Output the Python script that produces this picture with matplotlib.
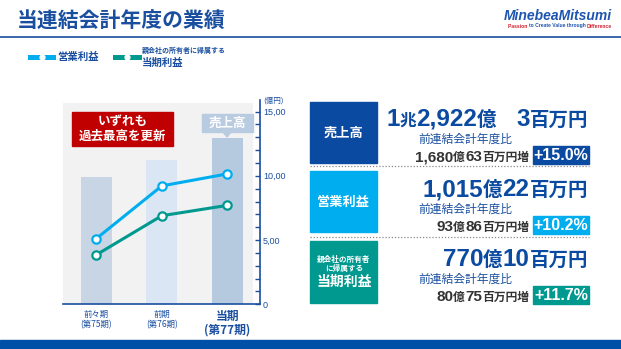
import matplotlib
matplotlib.use("Agg")
import matplotlib.pyplot as plt
from matplotlib.patches import Rectangle, Polygon
from matplotlib.lines import Line2D

plt.rcParams['font.family'] = ['Noto Sans CJK JP', 'DejaVu Sans']

# 億円
periods = ['前々期\n(第75期)', '前期\n(第76期)', '当期\n(第77期)']
sales = [9884, 11241, 12922]
op_income = [5101, 9214, 10152]
net_income = [3843, 6894, 7701]
ytick_vals = [0, 5000, 10000, 15000]
ytick_labels = ['0', '5,00', '10,00', '15,00']

W, H = 621, 349
BLUE = '#1a4fa0'
NAVY = '#0a4aa0'
SKY = '#00aeef'
TEAL = '#00998f'
NUM_FONT = ['Liberation Sans', 'Noto Sans CJK JP']

fig = plt.figure(figsize=(W / 100, H / 100), dpi=100)
fig.patch.set_facecolor('white')


def fx(x):
    return x / W


def fy(y):
    return 1 - y / H


def rect(x0, y0, x1, y1, color, **kw):
    fig.patches.append(Rectangle((fx(x0), fy(y1)), fx(x1 - x0), (y1 - y0) / H,
                                 transform=fig.transFigure, color=color, **kw))


def pieces(parts, x, y, ha='right', family=NUM_FONT, weight='bold'):
    '''Writes text runs of different sizes along one baseline.'''
    r = fig.canvas.get_renderer()
    objs = []
    for s, size, color in parts:
        t = fig.text(0, fy(y), s, fontsize=size, color=color, va='baseline',
                     ha='left', family=family, fontweight=weight)
        objs.append(t)
    widths = [t.get_window_extent(renderer=r).width for t in objs]
    total = sum(widths)
    cur = x - total if ha == 'right' else x
    for t, w in zip(objs, widths):
        t.set_x(fx(cur))
        cur += w


# title and header
fig.text(fx(17), fy(21), '当連結会計年度の業績', fontsize=15, fontweight='bold',
         color=BLUE, va='center', ha='left')
fig.lines.append(Line2D([0, 1], [fy(37), fy(37)], transform=fig.transFigure,
                        color=BLUE, lw=1.2))
fig.text(fx(612), fy(16), 'MinebeaMitsumi', fontsize=10, fontweight='bold',
         style='italic', color='#1d55b0', ha='right', va='center',
         family='Liberation Sans')
pieces([('Passion ', 3.6, '#d0202e'), ('to Create Value through ', 3.6, '#1d55b0'),
        ('Difference', 3.6, '#d0202e')], 508, 27.5, ha='left',
       family='Liberation Sans')
rect(0, 340, 621, 349, '#0050a8')

# legend
for x0, x1, c in [(30, 53, SKY), (115, 139, TEAL)]:
    fig.lines.append(Line2D([fx(x0), fx(x1)], [fy(57), fy(57)],
                            transform=fig.transFigure, color=c, lw=3.6))
    fig.lines.append(Line2D([fx((x0 + x1) / 2)], [fy(57)], transform=fig.transFigure,
                            marker='o', ms=3.5, mfc='white', mec='white'))
fig.text(fx(57), fy(57), '営業利益', fontsize=7.5, fontweight='bold', color=BLUE,
         va='center')
fig.text(fx(142), fy(50), '親会社の所有者に帰属する', fontsize=5, fontweight='bold',
         color=BLUE, va='center')
fig.text(fx(142), fy(62.5), '当期利益', fontsize=7.5, fontweight='bold', color=BLUE,
         va='center')

# chart
ax = fig.add_axes([fx(63.3), fy(304.3), (260.3 - 63.3) / W, (304.3 - 100) / H])
ax.set_facecolor('none')
ax.set_xlim(-0.5, 2.5)
ax.set_ylim(0, 15900)
ax.add_patch(Rectangle((-0.5, 0), 2.89, 15680, color='#f2f2f2', zorder=0, lw=0))

x = range(len(periods))
ax.bar(x, sales, width=0.47, color=['#c8d5e4', '#dbe6f4', '#b5c9df'], zorder=1)
ax.plot(x, op_income, color=SKY, lw=2.2, marker='o', ms=6, mfc='white', mec=SKY,
        mew=1.6, zorder=3)
ax.plot(x, net_income, color=TEAL, lw=2.2, marker='o', ms=6, mfc='white', mec=TEAL,
        mew=1.6, zorder=3)

for s in ['left', 'top']:
    ax.spines[s].set_visible(False)
for s in ['right', 'bottom']:
    ax.spines[s].set_color(BLUE)
    ax.spines[s].set_linewidth(1.2)

ax.yaxis.tick_right()
ax.set_yticks(ytick_vals, ytick_labels)
ax.set_yticks(range(0, 16000, 1000), minor=True)
ax.tick_params(axis='y', which='both', direction='in', length=3.5, width=1,
               color=BLUE, labelcolor=BLUE, labelsize=6.5, pad=2)
for lbl in ax.get_yticklabels():
    lbl.set_family('Liberation Sans')
ax.set_xticks(list(x), periods)
ax.tick_params(axis='x', length=0, labelsize=6, labelcolor=BLUE, pad=4)
for i, lbl in enumerate(ax.get_xticklabels()):
    lbl.set_linespacing(1.2)
    if i == 2:
        lbl.set_fontsize(8.5)
        lbl.set_fontweight('bold')
        lbl.set_linespacing(1.05)
fig.text(fx(263), fy(101), '(億円)', fontsize=5.5, color=BLUE, va='center')

# callouts inside the chart
rect(72.3, 112, 172.7, 146, '#c00000')
fig.text(fx(122.5), fy(121.5), 'いずれも', fontsize=9, fontweight='bold',
         color='white', ha='center', va='center')
fig.text(fx(122.5), fy(136.5), '過去最高を更新', fontsize=9, fontweight='bold',
         color='white', ha='center', va='center')
rect(201.7, 114, 253.3, 132, '#b8cbe0')
fig.patches.append(Polygon([(fx(222.5), fy(131.5)), (fx(231.5), fy(131.5)),
                            (fx(227), fy(137))], closed=True,
                           transform=fig.transFigure, color='#b8cbe0'))
fig.text(fx(227.5), fy(123), '売上高', fontsize=9, fontweight='bold',
         color='white', ha='center', va='center')

# results panel
rows = [
    {'top': 102.3, 'bot': 162.7, 'color': NAVY, 'base': 126,
     'big': [('1', 17.5, NAVY), ('兆', 12, NAVY), ('2,922', 17.5, NAVY), ('億', 14, NAVY),
             ('　', 14, NAVY), ('3', 17.5, NAVY), ('百万円', 14, NAVY)],
     'inc': [('1,680', 11, '#333333'), ('億', 8.5, '#333333'), ('63', 11, '#333333'),
             ('百万円増', 8.5, '#333333')],
     'pct': '+15.0%'},
    {'top': 171, 'bot': 232, 'color': SKY, 'base': 196,
     'big': [('1,015', 17.5, NAVY), ('億', 14, NAVY), ('22', 17.5, NAVY), ('百万円', 14, NAVY)],
     'inc': [('93', 11, '#333333'), ('億', 8.5, '#333333'), ('86', 11, '#333333'),
             ('百万円増', 8.5, '#333333')],
     'pct': '+10.2%'},
    {'top': 241, 'bot': 303, 'color': TEAL, 'base': 266,
     'big': [('770', 17.5, NAVY), ('億', 14, NAVY), ('10', 17.5, NAVY), ('百万円', 14, NAVY)],
     'inc': [('80', 11, '#333333'), ('億', 8.5, '#333333'), ('75', 11, '#333333'),
             ('百万円増', 8.5, '#333333')],
     'pct': '+11.7%'},
]

for row in rows:
    rect(310, row['top'], 377.3, row['bot'], row['color'])
    b = row['base']
    pieces(row['big'], 588, b)
    fig.text(fx(418), fy(b + 17), '前連結会計年度比', fontsize=8.5, color=BLUE,
             va='baseline')
    pieces(row['inc'], 529, b + 35)
    rect(533, b + 20, 589, b + 38, row['color'])
    fig.text(fx(561), fy(b + 29), row['pct'], fontsize=11.5, fontweight='bold',
             color='white', ha='center', va='center', family='Liberation Sans')

mid = lambda r: (r['top'] + r['bot']) / 2
fig.text(fx(343.6), fy(mid(rows[0])), '売上高', fontsize=9.5, fontweight='bold',
         color='white', ha='center', va='center')
fig.text(fx(343.6), fy(mid(rows[1])), '営業利益', fontsize=9.5, fontweight='bold',
         color='white', ha='center', va='center')
fig.text(fx(344), fy(259), '親会社の所有者', fontsize=5.5, fontweight='bold',
         color='white', ha='center', va='center')
fig.text(fx(344), fy(269), 'に帰属する', fontsize=5.5, fontweight='bold',
         color='white', ha='center', va='center')
fig.text(fx(344), fy(282), '当期利益', fontsize=10, fontweight='bold',
         color='white', ha='center', va='center')

for y in [166, 237]:
    fig.lines.append(Line2D([fx(310), fx(589)], [fy(y), fy(y)], transform=fig.transFigure,
                            color='#888888', lw=0.9, ls=(0, (1, 1.5))))

fig.savefig('out.png', dpi=100)
